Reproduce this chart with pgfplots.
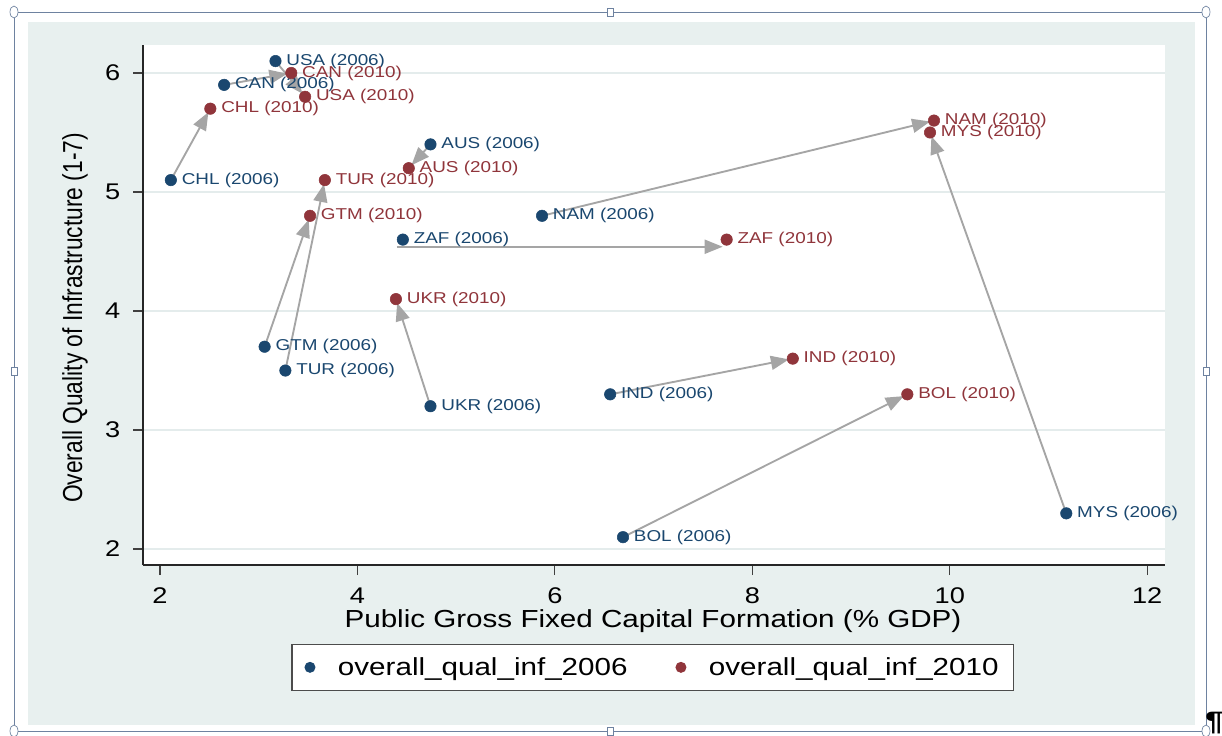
\documentclass[border=0pt]{standalone}
\usepackage{fontspec}
\setmainfont{Liberation Sans}[FakeStretch=1.2]
\newfontfamily\vfont{Liberation Sans}[FakeStretch=0.83]
\usepackage{pgfplots}
\pgfplotsset{compat=1.18}
\usepackage{pgfplotstable}
\usetikzlibrary{arrows.meta}

\definecolor{navy}{RGB}{26,71,111}
\definecolor{maroon}{RGB}{144,53,59}
\definecolor{bgc}{RGB}{232,240,239}
\definecolor{gridc}{RGB}{228,236,236}
\definecolor{arrowc}{RGB}{165,165,165}
\definecolor{framec}{RGB}{110,130,160}

\pgfplotstableread[col sep=comma]{
x,y,label
2.11,5.1,CHL (2006)
2.65,5.9,CAN (2006)
3.17,6.1,USA (2006)
3.06,3.7,GTM (2006)
3.27,3.5,TUR (2006)
4.46,4.6,ZAF (2006)
4.74,5.4,AUS (2006)
4.74,3.2,UKR (2006)
5.87,4.8,NAM (2006)
6.56,3.3,IND (2006)
6.69,2.1,BOL (2006)
11.18,2.3,MYS (2006)
}\dataA

\pgfplotstableread[col sep=comma]{
x,y,label
2.51,5.7,CHL (2010)
3.33,6.0,CAN (2010)
3.47,5.8,USA (2010)
3.52,4.8,GTM (2010)
3.67,5.1,TUR (2010)
7.74,4.6,ZAF (2010)
4.52,5.2,AUS (2010)
4.39,4.1,UKR (2010)
9.84,5.6,NAM (2010)
8.41,3.6,IND (2010)
9.57,3.3,BOL (2010)
9.80,5.5,MYS (2010)
}\dataB

\pgfplotstableread[col sep=comma]{
x1,y1,x2,y2
2.11,5.1,2.51,5.7
2.65,5.9,3.33,6.0
3.17,6.1,3.47,5.8
3.06,3.7,3.52,4.8
3.27,3.5,3.67,5.1
4.40,4.54,7.74,4.54
4.74,5.4,4.52,5.2
4.74,3.2,4.39,4.1
5.87,4.8,9.84,5.6
6.56,3.3,8.41,3.6
6.69,2.1,9.57,3.3
11.18,2.3,9.80,5.5
}\arrowdata

\begin{document}
\begin{tikzpicture}
\useasboundingbox (0,0) rectangle (916.5pt,-552pt);
\begin{scope}[x=0.75pt,y=-0.75pt]
\fill[bgc] (28,22) rectangle (1195,725);
\draw[framec, line width=0.6pt] (14,12) rectangle (1206,731);
\foreach \p in {(14,12),(1206,12),(14,731),(1206,731)} \draw[framec,fill=white,line width=0.5pt] \p ellipse (4 and 6);
\foreach \p in {(610,12),(14,371),(1206,371),(610,731)} \draw[framec,fill=white,line width=0.5pt] \p ++(-3,-4) rectangle ++(6,8);
\node[anchor=base west, inner sep=0pt, font=\fontsize{20}{20}\selectfont\bfseries] at (1205,730) {\P};
\end{scope}
\begin{axis}[
  at={(107.25pt,-423.75pt)}, anchor=south west,
  width=766.5pt, height=390pt, scale only axis,
  xmin=1.828, xmax=12.18, ymin=1.866, ymax=6.235,
  axis lines*=left,
  axis line style={line width=0.9pt, black!85},
  axis background/.style={fill=white},
  xtick={2,4,...,12}, ytick={2,3,4,5,6},
  tick align=outside, major tick length=7.5pt,
  tick style={line width=0.9pt, black!75},
  ymajorgrids, grid style={gridc, line width=1pt},
  /pgf/number format/assume math mode=true,
  ticklabel style={font=\fontsize{17}{17}\selectfont},
  xticklabel style={yshift=-6pt},
  yticklabel style={xshift=-6pt},
  xlabel={Public Gross Fixed Capital Formation (\% GDP)},
  ylabel={Overall Quality of Infrastructure (1-7)},
  xlabel style={font=\fontsize{18.5}{18.5}\selectfont, at={(axis description cs:0.499,-0.108)}, anchor=center},
  ylabel style={font=\vfont\fontsize{20.6}{20.6}\selectfont, at={(axis description cs:-0.0665,0.475)}, anchor=center},
  legend style={at={(axis description cs:0.499,-0.151)}, anchor=north, legend columns=2,
    draw=black!70, line width=0.8pt, fill=white, font=\fontsize{18.5}{18.5}\selectfont,
    inner xsep=9.5pt, inner ysep=8pt,
    /tikz/every even column/.append style={column sep=34pt}},
  legend cell align=left,
  legend image code/.code={\path[draw=none,fill=none] (0pt,-1pt) rectangle (23pt,1pt); \draw[#1,mark size=3.7pt] plot coordinates {(4pt,0pt)};},
  clip=false,
]
\addplot[only marks, mark=*, mark size=4.3pt, color=navy, mark options={draw=navy, fill=navy},
  nodes near coords, point meta=explicit symbolic,
  nodes near coords style={anchor=west, xshift=8pt, inner sep=0pt, font=\fontsize{11.8}{11.8}\selectfont, text=navy}]
  table[x=x,y=y,meta=label]{\dataA};
\addlegendentry{overall\_qual\_inf\_2006}
\addplot[only marks, mark=*, mark size=4.3pt, color=maroon, mark options={draw=maroon, fill=maroon},
  nodes near coords, point meta=explicit symbolic,
  nodes near coords style={anchor=west, xshift=8pt, inner sep=0pt, font=\fontsize{11.8}{11.8}\selectfont, text=maroon}]
  table[x=x,y=y,meta=label]{\dataB};
\addlegendentry{overall\_qual\_inf\_2010}
\addplot[forget plot, no markers, arrowc, line width=1.4pt, -{Triangle[length=13.5pt,width=10.5pt]}, shorten >=3pt,
  quiver={u={\thisrow{x2}-\thisrow{x1}}, v={\thisrow{y2}-\thisrow{y1}}}]
  table[x=x1,y=y1]{\arrowdata};
\end{axis}
\end{tikzpicture}
\end{document}
